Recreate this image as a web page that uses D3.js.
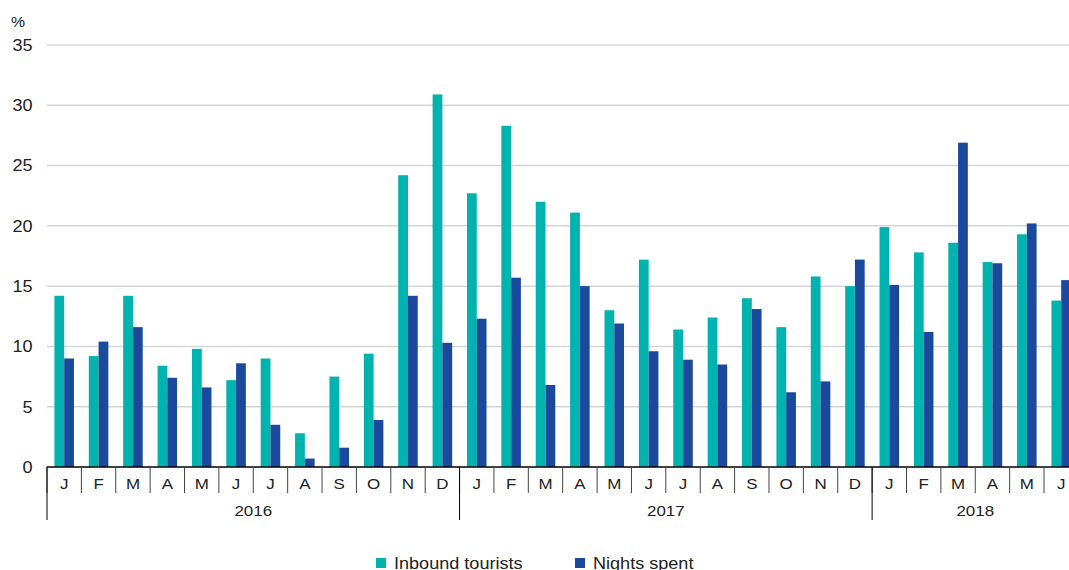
<!DOCTYPE html>
<html>
<head>
<meta charset="utf-8">
<script src="https://cdn.jsdelivr.net/npm/d3@7"></script>
<style>
  body { margin: 0; background: #fff; }
  svg { display: block; font-family: "Liberation Sans", Arial, sans-serif; }
</style>
</head>
<body>
<div id="chart"></div>
<script>
const monthLabels = ['J','F','M','A','M','J','J','A','S','O','N','D',
                     'J','F','M','A','M','J','J','A','S','O','N','D',
                     'J','F','M','A','M','J'];
const years = ['2016', '2017', '2018'];
const yearSpans = [12, 12, 6];
const inboundTourists = [14.2, 9.2, 14.2, 8.4, 9.8, 7.2, 9.0, 2.8, 7.5, 9.4, 24.2, 30.9,
                         22.7, 28.3, 22.0, 21.1, 13.0, 17.2, 11.4, 12.4, 14.0, 11.6, 15.8, 15.0,
                         19.9, 17.8, 18.6, 17.0, 19.3, 13.8];
const nightsSpent = [9.0, 10.4, 11.6, 7.4, 6.6, 8.6, 3.5, 0.7, 1.6, 3.9, 14.2, 10.3,
                     12.3, 15.7, 6.8, 15.0, 11.9, 9.6, 8.9, 8.5, 13.1, 6.2, 7.1, 17.2,
                     15.1, 11.2, 26.9, 16.9, 20.2, 15.5];
const seriesNames = ['Inbound tourists', 'Nights spent'];
const yTicks = [0, 5, 10, 15, 20, 25, 30, 35];

const width = 1069;
const height = 570;
const colors = ['#00b3af', '#1b4a9d'];
const stretch = 1.13; // text in the original is a bit wider than Arial

const plotLeft = 47, plotRight = 1078.4, plotTop = 45, plotBottom = 467;

const svg = d3.select('#chart')
    .append('svg')
    .attr('width', width)
    .attr('height', height);

// text placed at (x, y) and stretched horizontally
function label(sel, x, y) {
    return sel.attr('transform', (d, i) => `translate(${x(d, i)},${y(d, i)}) scale(${stretch},1)`);
}

const idx = d3.range(monthLabels.length);

const x0 = d3.scaleBand()
    .domain(idx)
    .range([plotLeft, plotRight])
    .padding(0);

const x1 = d3.scaleBand()
    .domain([0, 1])
    .range([0, x0.bandwidth()])
    .paddingInner(0)
    .paddingOuter(0.76);

const y = d3.scaleLinear()
    .domain([0, 35])
    .range([plotBottom, plotTop]);

// gridlines
svg.append('g')
    .selectAll('line')
    .data(yTicks.filter(d => d > 0))
    .join('line')
    .attr('x1', plotLeft)
    .attr('x2', width)
    .attr('y1', d => y(d))
    .attr('y2', d => y(d))
    .attr('stroke', '#d3d6d7')
    .attr('stroke-width', 1.5);

// y labels
svg.append('g')
    .selectAll('text')
    .data(yTicks)
    .join('text')
    .call(label, () => 32.5, d => y(d) + 5.8)
    .attr('text-anchor', 'end')
    .attr('font-size', 16)
    .attr('fill', '#222')
    .text(d => d);

svg.append('text')
    .datum(0)
    .call(label, () => 11, () => 27)
    .attr('font-size', 14)
    .attr('fill', '#222')
    .text('%');

// bars
const seriesData = [inboundTourists, nightsSpent];
seriesData.forEach((vals, s) => {
    svg.append('g')
        .selectAll('rect')
        .data(vals)
        .join('rect')
        .attr('x', (d, i) => x0(i) + x1(s))
        .attr('y', d => y(d))
        .attr('width', x1.bandwidth())
        .attr('height', d => y(0) - y(d))
        .attr('fill', colors[s]);
});

// x axis baseline
svg.append('line')
    .attr('x1', plotLeft)
    .attr('x2', width)
    .attr('y1', plotBottom)
    .attr('y2', plotBottom)
    .attr('stroke', '#000')
    .attr('stroke-width', 1.5);

// month ticks and labels
const xAxis = svg.append('g');
xAxis.selectAll('line')
    .data(idx)
    .join('line')
    .attr('x1', d => x0(d))
    .attr('x2', d => x0(d))
    .attr('y1', plotBottom)
    .attr('y2', 493)
    .attr('stroke', '#444')
    .attr('stroke-width', 1);

xAxis.selectAll('text')
    .data(idx)
    .join('text')
    .call(label, d => x0(d) + x0.bandwidth() / 2, () => 489)
    .attr('text-anchor', 'middle')
    .attr('font-size', 15)
    .attr('fill', '#222')
    .text(d => monthLabels[d]);

// year separators and labels
let start = 0;
years.forEach((yr, k) => {
    const xs = x0(start);
    const xe = start + yearSpans[k] < monthLabels.length ? x0(start + yearSpans[k]) : plotRight;
    svg.append('line')
        .attr('x1', xs)
        .attr('x2', xs)
        .attr('y1', plotBottom)
        .attr('y2', 520)
        .attr('stroke', '#000')
        .attr('stroke-width', 1);
    svg.append('text')
        .datum(yr)
        .call(label, () => (xs + xe) / 2, () => 516)
        .attr('text-anchor', 'middle')
        .attr('font-size', 15)
        .attr('fill', '#222')
        .text(yr);
    start += yearSpans[k];
});

// legend
const legendX = [376, 575];
const legend = svg.append('g');
seriesNames.forEach((name, s) => {
    legend.append('rect')
        .attr('x', legendX[s])
        .attr('y', 558)
        .attr('width', 10)
        .attr('height', 10)
        .attr('fill', colors[s]);
    legend.append('text')
        .datum(name)
        .call(label, () => legendX[s] + 18, () => 568.5)
        .attr('font-size', 16)
        .attr('fill', '#222')
        .text(name);
});
</script>
</body>
</html>
